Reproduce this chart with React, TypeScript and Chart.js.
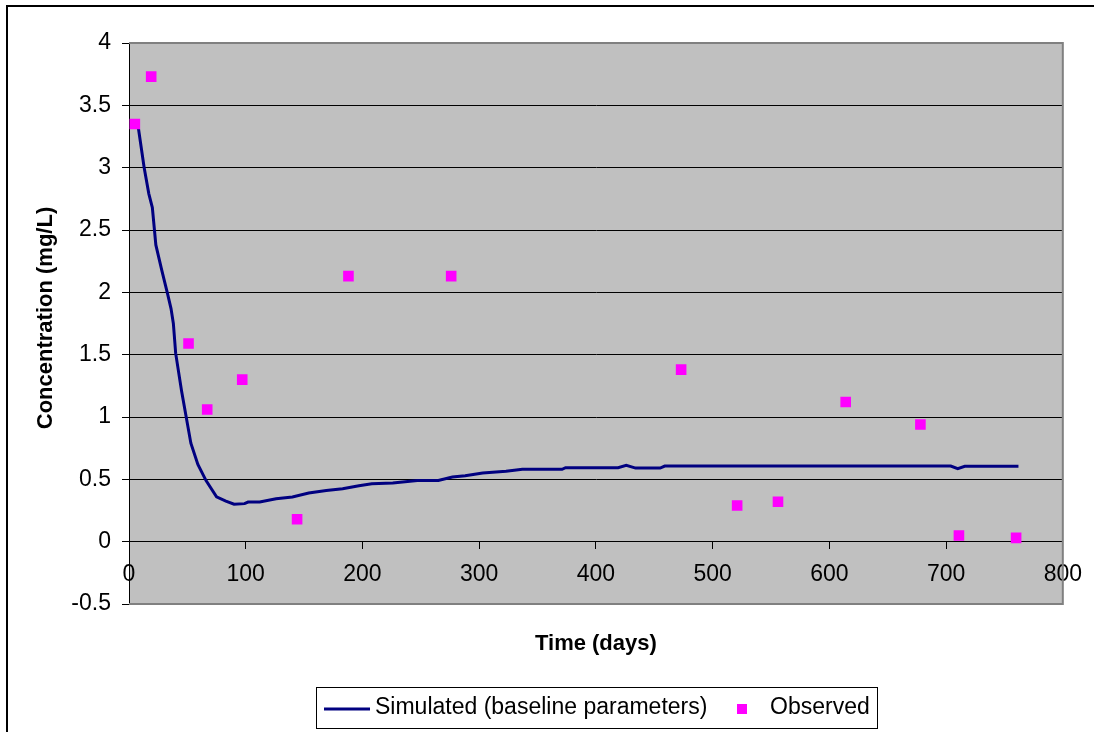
import React, { useEffect, useRef } from "react";
import { Chart, registerables } from "chart.js";

Chart.register(...registerables);

// Simulated (baseline parameters) curve
const simTime = [5, 8, 13, 17, 20, 23, 28, 33, 36, 38, 40, 45, 49, 53, 59, 66, 75, 83, 90, 99, 102, 112, 126, 140, 154, 169, 183, 197, 208, 226, 247, 265, 277, 288, 303, 323, 337, 371, 374, 419, 426, 434, 455, 459, 704, 710, 716, 762];
const simConc = [3.35, 3.32, 3.0, 2.79, 2.68, 2.38, 2.18, 1.99, 1.87, 1.75, 1.51, 1.21, 1.0, 0.79, 0.62, 0.49, 0.36, 0.326, 0.3, 0.305, 0.318, 0.318, 0.345, 0.358, 0.39, 0.41, 0.425, 0.449, 0.465, 0.47, 0.49, 0.49, 0.518, 0.529, 0.55, 0.564, 0.58, 0.58, 0.593, 0.593, 0.612, 0.59, 0.59, 0.606, 0.606, 0.585, 0.604, 0.604];

// Observed points
const obsTime = [5, 19, 51, 67, 97, 144, 188, 276, 473, 521, 556, 614, 678, 711, 760];
const obsConc = [3.35, 3.73, 1.59, 1.06, 1.3, 0.18, 2.13, 2.13, 1.38, 0.29, 0.32, 1.12, 0.94, 0.05, 0.03];

const seriesLabels = ["Simulated (baseline parameters)", "Observed"];
const xTitle = "Time (days)";
const yTitle = "Concentration (mg/L)";

const FONT = '"Liberation Sans", Arial, sans-serif';

const decorPlugin = {
  id: "decor",
  beforeDraw(chart: any) {
    const { ctx, chartArea } = chart;
    ctx.save();
    ctx.fillStyle = "#ffffff";
    ctx.fillRect(0, 0, chart.width, chart.height);
    // outer frame (extends beyond right/bottom)
    ctx.fillStyle = "#000000";
    ctx.fillRect(6, 5, 2, chart.height);
    ctx.fillRect(6, 5, chart.width, 2);
    // plot area
    ctx.fillStyle = "#C0C0C0";
    ctx.fillRect(chartArea.left, chartArea.top, chartArea.right - chartArea.left, chartArea.bottom - chartArea.top);
    ctx.restore();
  },
  beforeDatasetsDraw(chart: any) {
    const { ctx, chartArea } = chart;
    ctx.save();
    ctx.strokeStyle = "#808080";
    ctx.lineWidth = 2;
    ctx.beginPath();
    ctx.moveTo(chartArea.left, chartArea.top);
    ctx.lineTo(chartArea.right, chartArea.top);
    ctx.lineTo(chartArea.right, chartArea.bottom);
    ctx.lineTo(chartArea.left, chartArea.bottom);
    ctx.stroke();
    ctx.restore();
  },
  afterDraw(chart: any) {
    const { ctx, chartArea } = chart;
    const ds = chart.data.datasets;
    ctx.save();
    // axis titles
    ctx.fillStyle = "#000";
    ctx.font = `bold 22px ${FONT}`;
    ctx.textAlign = "center";
    ctx.textBaseline = "middle";
    ctx.fillText(xTitle, (chartArea.left + chartArea.right) / 2, 644);
    ctx.save();
    ctx.translate(46, 318);
    ctx.rotate(-Math.PI / 2);
    ctx.fillText(yTitle, 0, 0);
    ctx.restore();

    // legend
    ctx.strokeStyle = "#000";
    ctx.lineWidth = 1;
    ctx.strokeRect(316.5, 687.5, 561, 41);
    ctx.strokeStyle = ds[0].borderColor;
    ctx.lineWidth = 3;
    ctx.beginPath();
    ctx.moveTo(324, 709);
    ctx.lineTo(370, 709);
    ctx.stroke();
    ctx.fillStyle = "#000";
    ctx.font = `23px ${FONT}`;
    ctx.textAlign = "left";
    ctx.textBaseline = "middle";
    ctx.fillText(ds[0].label, 375, 708);
    ctx.fillStyle = ds[1].backgroundColor;
    ctx.fillRect(737, 704, 10, 10);
    ctx.fillStyle = "#000";
    ctx.fillText(ds[1].label, 770, 708);
    ctx.restore();
  },
};

export default function App() {
  const ref = useRef<HTMLCanvasElement | null>(null);

  useEffect(() => {
    if (!ref.current) return;
    const chart = new Chart(ref.current, {
      type: "line",
      data: {
        datasets: [
          {
            type: "line",
            label: seriesLabels[0],
            data: simTime.map((t, i) => ({ x: t, y: simConc[i] })),
            borderColor: "#000080",
            backgroundColor: "#000080",
            borderWidth: 3,
            pointRadius: 0,
            tension: 0,
            fill: false,
            order: 2,
          },
          {
            type: "scatter",
            label: seriesLabels[1],
            data: obsTime.map((t, i) => ({ x: t, y: obsConc[i] })),
            backgroundColor: "#FF00FF",
            borderColor: "#FF00FF",
            borderWidth: 0,
            pointStyle: "rect",
            pointRadius: 7.5,
            showLine: false,
            order: 1,
          } as any,
        ],
      },
      options: {
        responsive: false,
        animation: false,
        devicePixelRatio: 1,
        layout: { padding: { left: 0, top: 43, right: 29, bottom: 128 } },
        plugins: { legend: { display: false }, tooltip: { enabled: false }, title: { display: false } },
        scales: {
          x: {
            type: "linear",
            min: 0,
            max: 800,
            position: { y: 0 } as any,
            ticks: {
              stepSize: 100,
              color: "#000",
              font: { family: FONT, size: 23 },
              padding: 12,
              maxRotation: 0,
              autoSkip: false,
              callback: (v: any) => String(v),
            },
            grid: { drawOnChartArea: false, drawTicks: true, tickLength: 7, tickColor: "#000", tickWidth: 1 },
            border: { display: true, color: "#000", width: 1 },
          },
          y: {
            type: "linear",
            min: -0.5,
            max: 4,
            ticks: {
              stepSize: 0.5,
              color: "#000",
              font: { family: FONT, size: 23 },
              padding: 11,
              callback: (v: any) => String(v),
            },
            grid: {
              color: (c: any) => (c.tick && (c.tick.value === 4 || c.tick.value === -0.5) ? "rgba(0,0,0,0)" : "#000"),
              lineWidth: 1,
              drawTicks: true,
              tickLength: 7,
              tickColor: "#000",
            },
            border: { display: true, color: "#000", width: 1 },
            afterFit: (s: any) => {
              s.width = 129;
            },
          },
        },
      },
      plugins: [decorPlugin],
    });
    return () => chart.destroy();
  }, []);

  return (
    <div style={{ position: "fixed", left: 0, top: 0, width: 1094, height: 732 }}>
      <canvas ref={ref} width={1094} height={732} style={{ display: "block", width: 1094, height: 732 }} />
    </div>
  );
}
